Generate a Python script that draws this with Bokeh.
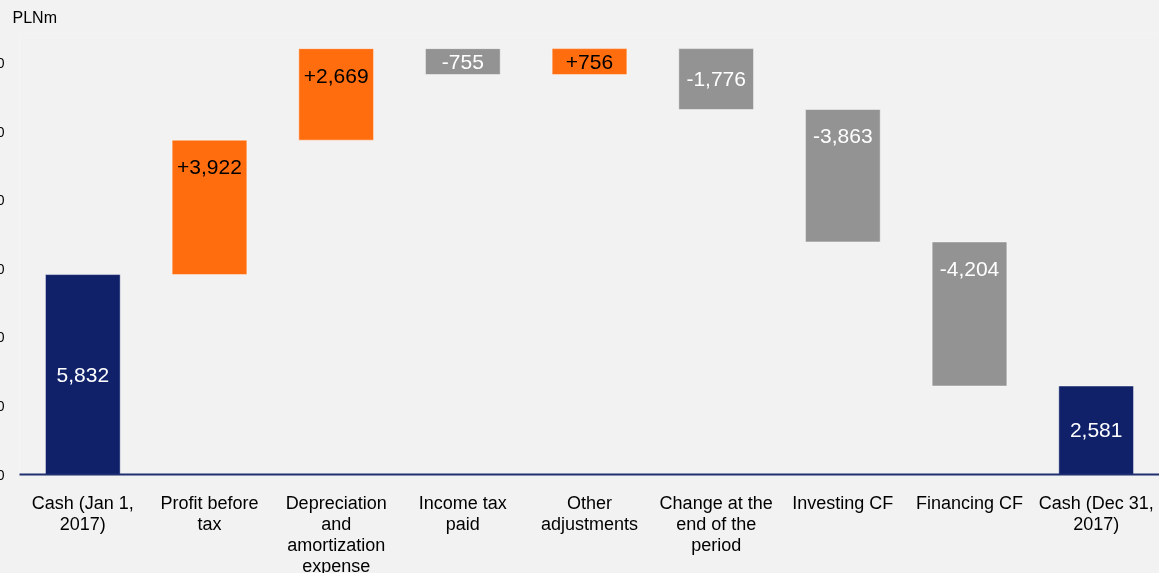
from bokeh.plotting import figure
from bokeh.models import ColumnDataSource, FactorRange, Range1d, NumeralTickFormatter, SingleIntervalTicker
from bokeh.core.properties import value
from bokeh.embed import file_html
from bokeh.resources import INLINE

# ---- data ----
categories = ["Cash (Jan 1,\n2017)", "Profit before\ntax", "Depreciation\nand\namortization\nexpense",
              "Income tax\npaid", "Other\nadjustments", "Change at the\nend of the\nperiod",
              "Investing CF", "Financing CF", "Cash (Dec 31,\n2017)"]
values = [5832, 3922, 2669, -755, 756, -1776, -3863, -4204, 2581]
kinds = ["total", "inc", "inc", "dec", "inc", "dec", "dec", "dec", "total"]
labels = ["5,832", "+3,922", "+2,669", "-755", "+756", "-1,776", "-3,863", "-4,204", "2,581"]
unit = "PLNm"

# ---- styles ----
BG = "#F2F2F2"
NAVY = "#10216A"
ORANGE = "#FF6D0F"
GRAY = "#939393"
FONT = "Liberation Sans"
fill_map = {"total": NAVY, "inc": ORANGE, "dec": GRAY}
text_map = {"total": "white", "inc": "black", "dec": "white"}

bottoms, tops = [], []
running = 0
for v, k in zip(values, kinds):
    if k == "total":
        b, t = 0, v
        running = v
    else:
        b, t = running, running + v
        running = t
    bottoms.append(min(b, t))
    tops.append(max(b, t))

label_y, label_off = [], []
for b, t in zip(bottoms, tops):
    if t - b > 2500 and b > 0:
        label_y.append(t)
        label_off.append(27)
    else:
        label_y.append((b + t) / 2)
        label_off.append(0)

src = ColumnDataSource(dict(
    cat=categories, bottom=bottoms, top=tops,
    fill=[fill_map[k] for k in kinds],
    tcol=[text_map[k] for k in kinds],
    label=labels, ly=label_y, yo=label_off,
))

H = 592
p = figure(x_range=FactorRange(*categories), y_range=Range1d(0, 12865),
           width=1207, height=H, output_backend="svg", toolbar_location=None,
           min_border_left=67, min_border_right=0, min_border_top=34, min_border_bottom=H - 476,
           background_fill_color=BG, border_fill_color=BG, outline_line_color=None,
           title=unit)
p.styles = {"position": "fixed", "left": "-48px", "top": "-2px"}

p.title.text_font = FONT
p.title.text_font_size = "16px"
p.title.text_font_style = "normal"
p.title.text_color = "#000000"
p.title.align = "left"
p.title.offset = -7
p.title.standoff = 16

p.vbar(x="cat", bottom="bottom", top="top", width=0.59, source=src,
       fill_color="fill", line_color="white", line_alpha=0.45, line_width=1)

p.text(x="cat", y="ly", text="label", source=src, text_color="tcol",
       text_font=value(FONT), text_font_size="21px", text_align="center",
       text_baseline="middle", y_offset="yo")

p.xgrid.grid_line_color = None
p.ygrid.grid_line_color = None

xa = p.xaxis[0]
xa.axis_line_color = "#1F2F70"
xa.axis_line_width = 2
xa.major_tick_line_color = None
xa.major_tick_out = 0
xa.minor_tick_line_color = None
xa.major_label_text_font = FONT
xa.major_label_text_font_size = "18px"
xa.major_label_text_color = "#000000"
xa.major_label_text_line_height = 1.05
xa.major_label_standoff = 18
xa.major_label_orientation = "horizontal"

ya = p.yaxis[0]
ya.ticker = SingleIntervalTicker(interval=2000)
ya.formatter = NumeralTickFormatter(format="0,0")
ya.axis_line_color = None
ya.major_tick_line_color = None
ya.major_tick_out = 0
ya.minor_tick_line_color = None
ya.major_label_text_font = FONT
ya.major_label_text_font_size = "14px"
ya.major_label_text_color = "#000000"
ya.major_label_standoff = 11

open("out.html", "w").write(file_html(p, INLINE))
